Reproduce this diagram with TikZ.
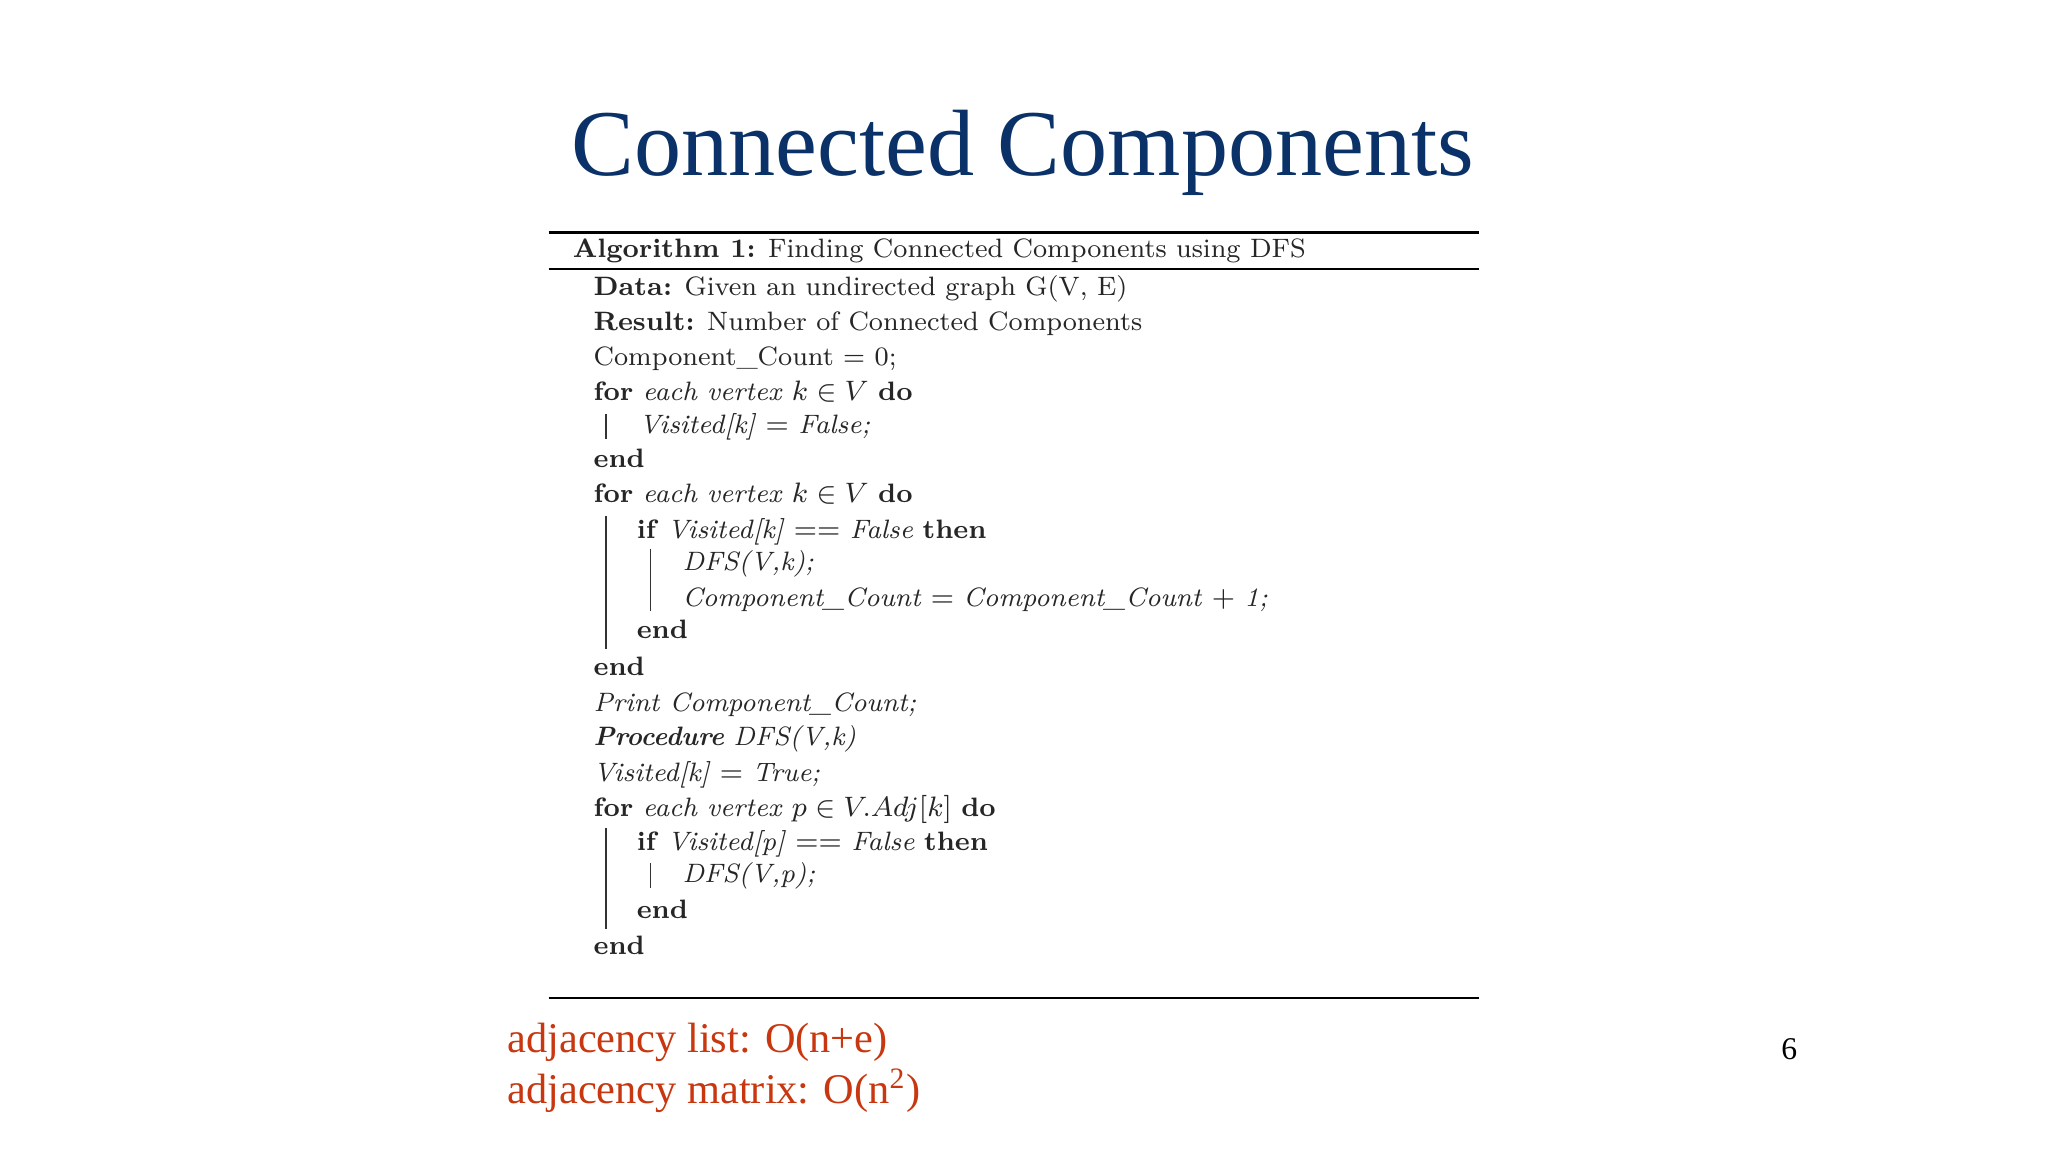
\documentclass[tikz,border=0pt]{standalone}
\usepackage{fontspec}
\newfontfamily\timesf{Liberation Serif}
\definecolor{titleblue}{RGB}{10,50,105}
\definecolor{notered}{RGB}{200,55,15}
\begin{document}
\begin{tikzpicture}[x=0.013061cm,y=-0.013061cm,
  alg/.style={anchor=base west,inner sep=0pt,text=black!85,font=\fontsize{7.57}{9}\selectfont},
  rule/.style={line width=0.7pt},
  bar/.style={line width=0.45pt,black!80},
  note/.style={anchor=base west,inner sep=0pt,text=notered,font=\timesf\fontsize{12.05}{14}\selectfont}]
\useasboundingbox (0,0) rectangle (1568,882);
\node[text=titleblue,font=\timesf\fontsize{26.8}{30}\selectfont,anchor=base,inner sep=0pt] (title) at (783,134) {Connected Components};
\coordinate (r1a) at (420,178); \coordinate (r1b) at (1132,178);
\coordinate (r2a) at (420,206); \coordinate (r2b) at (1132,206);
\coordinate (r3a) at (420,764); \coordinate (r3b) at (1132,764);
\draw[rule] (r1a)--(r1b); \draw[rule] (r2a)--(r2b); \draw[rule] (r3a)--(r3b);
\node[alg] (head) at (438,197) {\textbf{Algorithm 1:} Finding Connected Components using DFS};
\node[alg] (l1) at (454,226) {\textbf{Data:} Given an undirected graph G(V, E)};
\node[alg] (l2) at (454,253) {\textbf{Result:} Number of Connected Components};
\node[alg] (l3) at (454,280) {Component\_Count = 0;};
\node[alg] (l4) at (454,307) {\textbf{for} \textit{each vertex} $k\in V$ \textbf{do}};
\node[alg] (l5) at (489,332) {\textit{Visited[k]} $=$ \textit{False;}};
\node[alg] (l6) at (454,358) {\textbf{end}};
\node[alg] (l7) at (454,385) {\textbf{for} \textit{each vertex} $k\in V$ \textbf{do}};
\node[alg] (l8) at (487,412) {\textbf{if} \textit{Visited[k]} $==$ \textit{False} \textbf{then}};
\node[alg] (l9) at (522,437) {\textit{DFS(V,k);}};
\node[alg] (l10) at (522,464) {\textit{Component\_Count} $=$ \textit{Component\_Count} $+$ \textit{1;}};
\node[alg] (l11) at (487,489) {\textbf{end}};
\node[alg] (l12) at (454,517) {\textbf{end}};
\node[alg] (l13) at (454,545) {\textit{Print Component\_Count;}};
\node[alg] (l14) at (454,571) {\textbf{\textit{Procedure}} \textit{DFS(V,k)}};
\node[alg] (l15) at (454,598) {\textit{Visited[k]} $=$ \textit{True;}};
\node[alg] (l16) at (454,625) {\textbf{for} \textit{each vertex} $p\in V.Adj[k]$ \textbf{do}};
\node[alg] (l17) at (487,651) {\textbf{if} \textit{Visited[p]} $==$ \textit{False} \textbf{then}};
\node[alg] (l18) at (522,676) {\textit{DFS(V,p);}};
\node[alg] (l19) at (487,703) {\textbf{end}};
\node[alg] (l20) at (454,731) {\textbf{end}};
\coordinate (b1a) at (464,317); \coordinate (b1b) at (464,336);
\coordinate (b2a) at (464,395); \coordinate (b2b) at (464,497);
\coordinate (b3a) at (498,420); \coordinate (b3b) at (498,468);
\coordinate (b4a) at (464,634); \coordinate (b4b) at (464,711);
\coordinate (b5a) at (498,661); \coordinate (b5b) at (498,680);
\foreach \p in {1,...,5} \draw[bar] (b\p a)--(b\p b);
\node[note] (n1) at (388,806) {adjacency list: O(n+e)};
\node[note] (n2) at (388,845) {adjacency matrix: O(n\textsuperscript{2})};
\node[font=\timesf\fontsize{9}{10}\selectfont,anchor=base,inner sep=0pt] (pg) at (1370,811) {6};
\end{tikzpicture}
\end{document}
